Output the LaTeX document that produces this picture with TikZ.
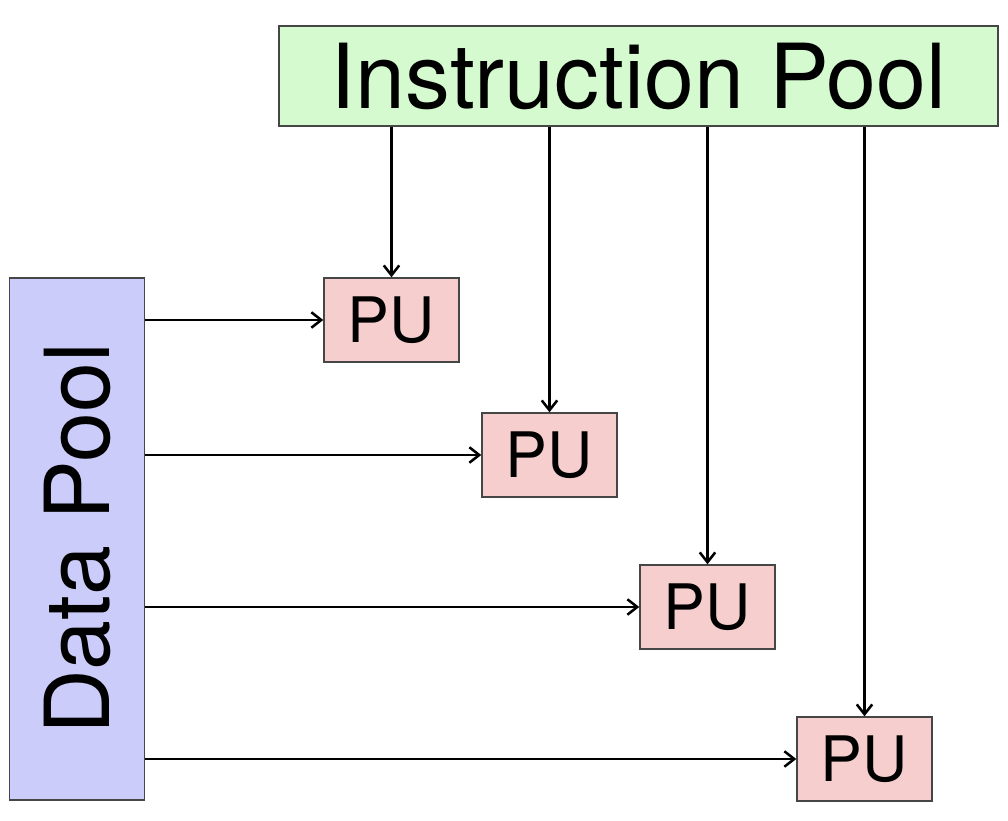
\documentclass[tikz,border=0pt]{standalone}
\usepackage{fontspec}
\setmainfont{TeX Gyre Heros}
\usetikzlibrary{arrows.meta}
\begin{document}
\begin{tikzpicture}[x=0.025cm,y=-0.025cm]
        % Define colors
        \definecolor{instcolor}{RGB}{214,250,208}
        \definecolor{datacolor}{RGB}{204,204,250}
        \definecolor{pucolor}{RGB}{246,206,206}
        \definecolor{edgecolor}{RGB}{70,70,70}
        \tikzset{
            pool/.style={draw=edgecolor, line width=1pt, inner sep=0pt},
            pu/.style={draw=edgecolor, line width=1pt, fill=pucolor, inner sep=0pt,
                minimum width=3.375cm, minimum height=2.1cm,
                font=\fontsize{44.6}{50}\selectfont},
            arr/.style={-{Straight Barb[length=7pt,width=11pt,line width=1.8pt]}, line width=1.6pt}
        }
        \useasboundingbox (0,0) rectangle (1008,821);

        % Draw pools
        \node[pool, fill=instcolor, minimum width=17.975cm, minimum height=2.5cm,
            font=\fontsize{63.8}{70}\selectfont] (inst) at (638.5,76) {Instruction Pool};
        \node[pool, fill=datacolor, minimum width=13.05cm, minimum height=3.375cm,
            rotate=90, font=\fontsize{63.8}{70}\selectfont] (data) at (77,539) {Data Pool};

        % Draw processing units
        \node[pu] (pu1) at (391.5,320) {PU};
        \node[pu] (pu2) at (549.5,455) {PU};
        \node[pu] (pu3) at (707.5,607) {PU};
        \node[pu] (pu4) at (864.5,759) {PU};

        % Draw instruction and data streams
        \foreach \p in {pu1,pu2,pu3,pu4} {
            \draw[arr] (\p.north |- inst.south) -- (\p.north);
            \draw[arr] (data.south |- \p.west) -- (\p.west);
        }
    \end{tikzpicture}
\end{document}
